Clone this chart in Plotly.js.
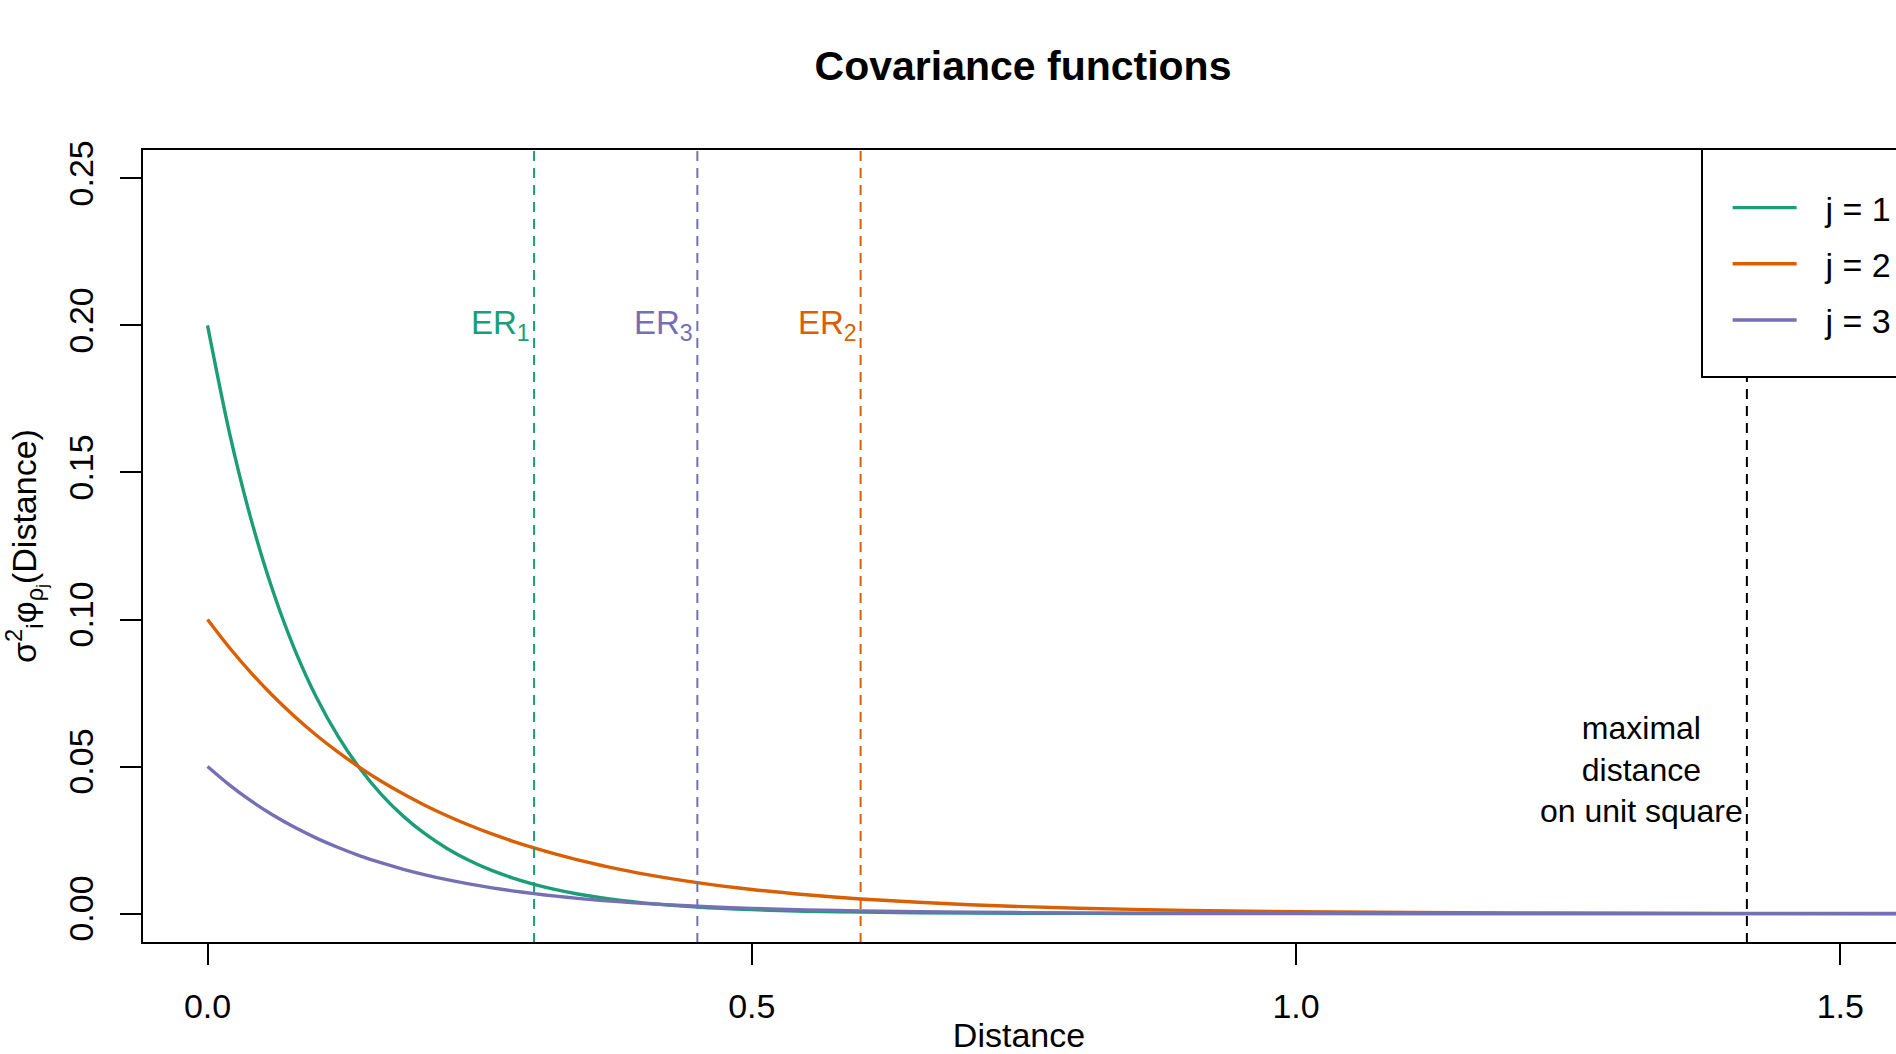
<!DOCTYPE html>
<html>
<head>
<meta charset="utf-8">
<script src="https://cdn.plot.ly/plotly-3.0.1.min.js"></script>
<style>html,body{margin:0;padding:0;background:#fff;}#chart{width:1896px;height:1054px;}</style>
</head>
<body>
<div id="chart"></div>
<script>
// Distances at which the covariance curves were read
var distance = [0, 0.02, 0.04, 0.06, 0.08, 0.10, 0.12, 0.14, 0.16, 0.18, 0.20, 0.22, 0.24, 0.26, 0.28, 0.30, 0.32, 0.34, 0.36, 0.38, 0.40, 0.45, 0.50, 0.55, 0.60, 0.70, 0.80, 0.90, 1.00, 1.20, 1.40, 1.60];
// Covariance values
var cov_j1 = [0.2, 0.16375, 0.13406, 0.10976, 0.08987, 0.07358, 0.06024, 0.04932, 0.04038, 0.03306, 0.02707, 0.02216, 0.01814, 0.01485, 0.01216, 0.00996, 0.00815, 0.00667, 0.00546, 0.00447, 0.00366, 0.00222, 0.00135, 0.00082, 0.00050, 0.00018, 0.00007, 0.00002, 0.00001, 0, 0, 0];
var cov_j2 = [0.1, 0.09048, 0.08187, 0.07408, 0.06703, 0.06065, 0.05488, 0.04966, 0.04493, 0.04066, 0.03679, 0.03329, 0.03012, 0.02725, 0.02466, 0.02231, 0.02019, 0.01827, 0.01653, 0.01496, 0.01353, 0.01054, 0.00821, 0.00639, 0.00498, 0.00302, 0.00183, 0.00111, 0.00067, 0.00025, 0.00009, 0.00003];
var cov_j3 = [0.05, 0.04376, 0.03830, 0.03352, 0.02933, 0.02567, 0.02247, 0.01966, 0.01721, 0.01506, 0.01318, 0.01153, 0.01009, 0.00883, 0.00773, 0.00677, 0.00592, 0.00518, 0.00454, 0.00397, 0.00347, 0.00249, 0.00178, 0.00128, 0.00092, 0.00047, 0.00024, 0.00012, 0.00006, 0.00002, 0, 0];

var seriesNames = ["j = 1", "j = 2", "j = 3"];
var seriesColors = ["#1B9E77", "#D95F02", "#7570B3"];

// Effective ranges (vertical dashed lines) and their labels
var erValues = [0.30, 0.60, 0.45];
var erLabels = ["ER<sub>1</sub>", "ER<sub>2</sub>", "ER<sub>3</sub>"];
var erLabelY = 0.20;

// Maximal distance on unit square
var maxDistance = 1.4142;
var maxDistLabel = "maximal<br>distance<br>on unit square";
var maxDistLabelY = 0.05;

// Axis ticks
var xTickVals = [0, 0.5, 1.0, 1.5];
var xTickText = ["0.0", "0.5", "1.0", "1.5"];
var yTickVals = [0, 0.05, 0.10, 0.15, 0.20, 0.25];
var yTickText = ["0.00", "0.05", "0.10", "0.15", "0.20", "0.25"];

var FONT = "Liberation Sans, Arial, Helvetica, sans-serif";
var covs = [cov_j1, cov_j2, cov_j3];

var traces = covs.map(function (c, i) {
  return {
    x: distance, y: c, type: "scatter", mode: "lines",
    name: "\u2002\u2009" + seriesNames[i], legendgroup: "g" + i,
    line: {color: seriesColors[i], width: 3.4, shape: "spline", smoothing: 0.8},
    hovertemplate: seriesNames[i] + "<br>Distance %{x}<br>%{y}<extra></extra>"
  };
});

var shapes = [];
erValues.forEach(function (v, i) {
  shapes.push({type: "line", xref: "x", yref: "paper", x0: v, x1: v, y0: 0, y1: 1,
    line: {color: seriesColors[i], width: 2, dash: "10px,7px"}, layer: "above"});
});
shapes.push({type: "line", xref: "x", yref: "paper", x0: maxDistance, x1: maxDistance, y0: 0, y1: 1,
  line: {color: "#000", width: 2, dash: "10px,7px"}, layer: "above"});
// legend box (extends beyond the right edge, as in the reference)
shapes.push({type: "rect", xref: "paper", yref: "paper", x0: 0.8894, x1: 1.2, y0: 0.7128, y1: 1,
  fillcolor: "#fff", line: {color: "#000", width: 2}, layer: "above"});
// plot frame
shapes.push({type: "rect", xref: "paper", yref: "paper", x0: 0, x1: 1.2, y0: 0, y1: 1,
  fillcolor: "rgba(0,0,0,0)", line: {color: "#000", width: 2}, layer: "above"});

var annotations = erValues.map(function (v, i) {
  return {x: v, y: erLabelY, xref: "x", yref: "y", text: erLabels[i], showarrow: false,
    xanchor: "right", yanchor: "middle", xshift: -2,
    font: {family: FONT, size: 33, color: seriesColors[i]}};
});
annotations.push({x: maxDistance, y: maxDistLabelY, xref: "x", yref: "y", text: maxDistLabel,
  showarrow: false, xanchor: "right", yanchor: "middle", align: "center", xshift: -2, yshift: -3,
  font: {family: FONT, size: 32, color: "#000"}});

var layout = {
  width: 1896, height: 1054,
  margin: {l: 142, r: 0, t: 149, b: 111, autoexpand: false},
  paper_bgcolor: "#fff", plot_bgcolor: "#fff",
  font: {family: FONT, size: 34, color: "#000"},
  title: {text: "<b>Covariance functions</b>", xref: "container", yref: "container",
    x: 1023 / 1896, xanchor: "center", y: 1 - 66 / 1054, yanchor: "middle",
    font: {family: FONT, size: 41, color: "#000"}},
  xaxis: {
    range: [-0.0602, 1.5512], showgrid: false, zeroline: false, showline: false,
    tickmode: "array", tickvals: xTickVals, ticktext: xTickText,
    ticks: "outside", ticklen: 21, tickwidth: 2, tickcolor: "#000",
    ticklabelstandoff: 12,
    tickfont: {family: FONT, size: 34, color: "#000"},
    title: {text: "Distance", standoff: 16, font: {family: FONT, size: 34, color: "#000"}},
    automargin: false
  },
  yaxis: {
    range: [-0.01, 0.26], showgrid: false, zeroline: false, showline: false,
    tickmode: "array", tickvals: yTickVals, ticktext: yTickText, tickangle: -90,
    ticks: "outside", ticklen: 21, tickwidth: 2, tickcolor: "#000",
    ticklabelstandoff: 13,
    tickfont: {family: FONT, size: 34, color: "#000"},
    title: {text: "σ<sup>2</sup><sub>i</sub>φ<sub>ρ<sub>j</sub></sub>(Distance)", standoff: 18,
      font: {family: FONT, size: 34, color: "#000"}},
    automargin: false
  },
  showlegend: true,
  legend: {x: 1714 / 1896, xref: "paper", xanchor: "left", y: 1 - 30 / 794, yanchor: "top",
    bgcolor: "rgba(0,0,0,0)", borderwidth: 0, tracegroupgap: 9, itemwidth: 64,
    font: {family: FONT, size: 34, color: "#000"}},
  shapes: shapes,
  annotations: annotations
};

Plotly.newPlot("chart", traces, layout, {displayModeBar: false, responsive: false});
</script>
</body>
</html>
